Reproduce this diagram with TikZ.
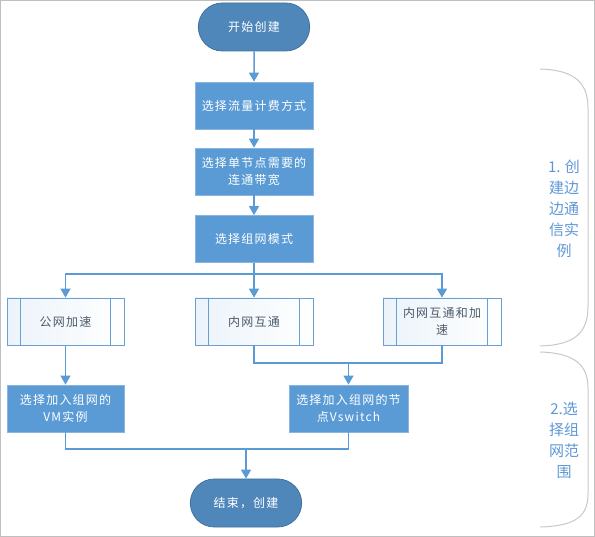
\documentclass[tikz,border=0pt]{standalone}
\usepackage{fontspec}
\setmainfont{Noto Sans CJK SC}
\usetikzlibrary{shapes.misc,arrows.meta,positioning}
\definecolor{boxblue}{HTML}{5B9BD5}
\definecolor{boxedge}{HTML}{8CB4E0}
\definecolor{termfill}{HTML}{4F87BB}
\definecolor{termedge}{HTML}{41719C}
\definecolor{lineblue}{HTML}{5B9BD5}
\definecolor{subedge}{HTML}{6A9FD4}
\definecolor{subtext}{HTML}{4D5A6A}
\definecolor{bracecol}{HTML}{C8C8C8}
\definecolor{labelblue}{HTML}{5E97D6}
\definecolor{framecol}{HTML}{BFBFBF}
\newfontfamily\boxfont[LetterSpace=10]{Noto Sans CJK SC}
\tikzset{
  termbox/.style={rounded rectangle, fill=termfill, draw=termedge, line width=0.8pt,
    minimum width=118pt, minimum height=48pt, text=white, font=\boxfont\fontsize{12}{17}\selectfont},
  procbox/.style={rectangle, fill=boxblue, draw=boxedge, line width=0.8pt,
    minimum width=118pt, minimum height=47pt, text=white, align=center,
    font=\boxfont\fontsize{12}{17}\selectfont},
  subbox/.style={rectangle, left color=boxblue!12!white, right color=white, draw=subedge, line width=0.8pt,
    minimum width=118pt, minimum height=47pt, text=subtext, align=center,
    font=\boxfont\fontsize{12}{17}\selectfont},
  conn/.style={draw=lineblue, line width=1.5pt},
  arr/.style={conn, -{Triangle[width=10pt,length=9pt]}},
  bracket/.style={draw=bracecol, line width=1pt},
  sidelabel/.style={text=labelblue, align=center, font=\fontsize{15}{21}\selectfont}
}
\begin{document}
\begin{tikzpicture}[x=1pt,y=-1pt]
\useasboundingbox (0,0) rectangle (595,537);
\draw[framecol, line width=1pt] (0.5,0.5) rectangle (594.5,536.5);

\node[termbox] (start) at (254,27) {开始创建};
\node[procbox] (b1) at (254,105.5) {选择流量计费方式};
\node[procbox] (b2) at (254,171.5) {选择单节点需要的\\连通带宽};
\node[procbox] (b3) at (254,239) {选择组网模式};

\node[subbox, minimum width=117pt] (pa) at (65.5,321.5) {公网加速};
\node[subbox] (pb) at (254,321.5) {内网互通};
\node[subbox] (pc) at (442,321.5) {内网互通和加\\速};
\foreach \n in {pa,pb,pc}{
  \draw[subedge, line width=0.8pt] ([xshift=14pt]\n.north west) -- ([xshift=14pt]\n.south west);
  \draw[subedge, line width=0.8pt] ([xshift=-14pt]\n.north east) -- ([xshift=-14pt]\n.south east);
}

\node[procbox, minimum width=117pt] (d) at (65.5,408.5) {选择加入组网的\\VM实例};
\node[procbox, minimum width=119pt] (e) at (348.5,408.5) {选择加入组网的节\\点Vswitch};
\node[termbox] (end) at (246,503) {结束，创建};

\coordinate (j1) at (254,274);
\coordinate (j2) at (348.5,363);
\coordinate (j3) at (246,449);

\draw[arr] (start) -- (b1);
\draw[arr] (b1) -- (b2);
\draw[arr] (b2) -- (b3);
\draw[conn] (b3) -- (j1);
\draw[arr] (j1) -| (pa.north);
\draw[arr] (j1) -| (pc.north);
\draw[arr] (j1) -- (pb.north);
\draw[arr] (pa) -- (d);
\draw[conn] (pb.south) |- (j2);
\draw[conn] (pc.south) |- (j2);
\draw[arr] (j2) -- (e.north);
\draw[conn] (d.south) |- (j3);
\draw[conn] (e.south) |- (j3);
\draw[arr] (j3) -- (end.north);

\draw[bracket] (540,69) .. controls (576,70) and (588,84) .. (588,108) -- (588,306) .. controls (588,332) and (576,345) .. (540,346);
\draw[bracket] (540,352) .. controls (576,353) and (588,366) .. (588,388) -- (588,494) .. controls (588,516) and (576,526) .. (540,527);

\node[sidelabel] (l1) at (564,208.5) {1. 创\\建边\\边通\\信实\\例};
\node[sidelabel] (l2) at (564,440) {2.选\\择组\\网范\\围};
\end{tikzpicture}
\end{document}
